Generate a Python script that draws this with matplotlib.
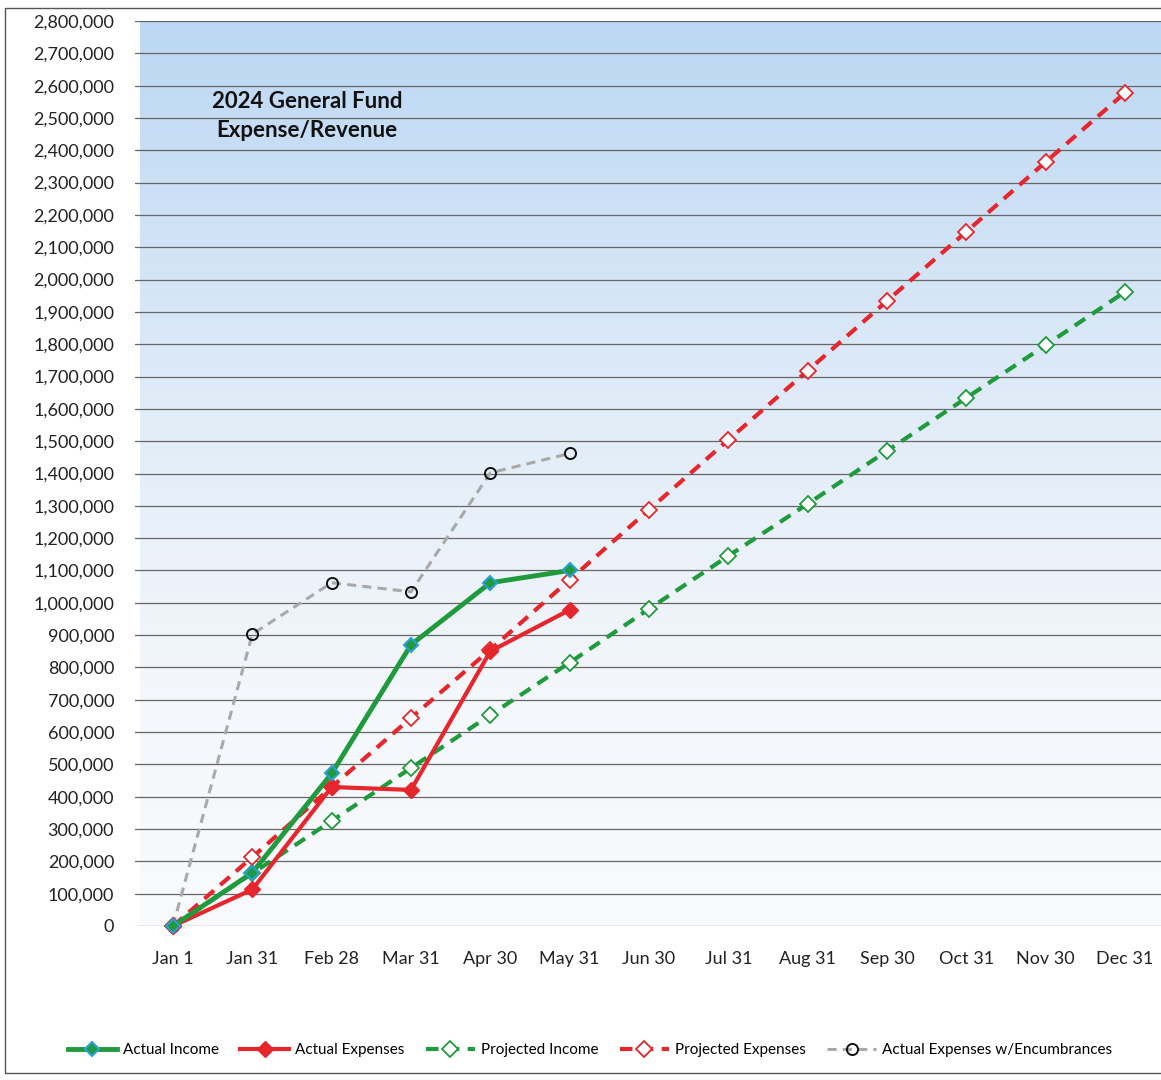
import numpy as np
import matplotlib
matplotlib.use("Agg")
import matplotlib.pyplot as plt
from matplotlib.colors import LinearSegmentedColormap
from matplotlib.patches import Rectangle
from matplotlib.ticker import FuncFormatter, MultipleLocator

plt.rcParams['font.family'] = ['Lato', 'DejaVu Sans']

# month-end labels
months = ["Jan 1", "Jan 31", "Feb 28", "Mar 31", "Apr 30", "May 31", "Jun 30",
          "Jul 31", "Aug 31", "Sep 30", "Oct 31", "Nov 30", "Dec 31"]

nan = np.nan
actual_income = [0, 165000, 472000, 870000, 1062000, 1100000,
                 nan, nan, nan, nan, nan, nan, nan]
actual_expenses = [0, 113000, 430000, 421000, 850000, 978000,
                   nan, nan, nan, nan, nan, nan, nan]
projected_income = [0, 163000, 325000, 489000, 653000, 815000, 981000,
                    1145000, 1306000, 1470000, 1634000, 1797000, 1962000]
projected_expenses = [0, 213000, 430000, 644000, 855000, 1071000, 1288000,
                      1504000, 1718000, 1934000, 2148000, 2364000, 2578000]
actual_w_encumbrances = [0, 903000, 1062000, 1034000, 1402000, 1462000,
                         nan, nan, nan, nan, nan, nan, nan]

W, H = 1161, 1080
fig = plt.figure(figsize=(W / 100, H / 100), dpi=100)
fig.patch.set_facecolor("white")

# outer frame of the pasted chart
fig.patches.append(Rectangle((5 / W, 1 - 1073 / H), 1.2, (1073 - 8) / H,
                             transform=fig.transFigure, fill=False,
                             edgecolor="#555555", lw=1.0))

left, right = 135, 1161
top, bottom = 21, 926
ax = fig.add_axes([left / W, 1 - bottom / H, (right - left) / W, (bottom - top) / H])

x = np.arange(len(months))
step = (1125 - 173) / 12
x0 = -(173 - left) / step
x1 = 12 + (right - 1125) / step

# gradient background: light blue at top fading to white
grad_cmap = LinearSegmentedColormap.from_list(
    "bg", [(0, "#f8fafd"), (0.25, "#f4f7fb"), (0.55, "#e2edf8"), (1, "#bcd7f3")])
grad = np.linspace(0, 1, 256).reshape(-1, 1)
ax.imshow(grad, cmap=grad_cmap, aspect="auto", origin="lower",
          extent=[x0 + 5 / step, x1 + 0.5, 0, 2800000], zorder=0)
ax.set_xlim(x0, x1)
ax.set_ylim(0, 2800000)

ax.yaxis.set_major_locator(MultipleLocator(100000))
ax.yaxis.set_major_formatter(FuncFormatter(lambda v, p: f"{int(v):,}"))
ax.grid(axis="y", color="#666666", lw=0.9, zorder=1)
ax.set_axisbelow(True)
for s in ax.spines.values():
    s.set_visible(False)
ax.tick_params(axis="y", length=0, pad=15, labelsize=13, labelcolor="#222222")
ax.tick_params(axis="x", length=0, pad=18, labelsize=13, labelcolor="#222222")
ax.set_xticks(x)
ax.set_xticklabels(months)

green = "#1f9a3c"
red = "#e5262d"
gray = "#a9a9a9"

ax.plot(x, actual_w_encumbrances, color=gray, lw=2.2, ls=(0, (3, 2)),
        marker="o", ms=8, mfc="none", mec="#111111", mew=1.4,
        label="Actual Expenses w/Encumbrances", zorder=3, clip_on=False)
ax.plot(x, projected_income, color=green, lw=3, ls=(0, (3, 2)),
        marker="D", ms=8, mfc="white", mec=green, mew=1.3,
        label="Projected Income", zorder=4, clip_on=False)
ax.plot(x, projected_expenses, color=red, lw=3, ls=(0, (3, 2)),
        marker="D", ms=8, mfc="white", mec=red, mew=1.3,
        label="Projected Expenses", zorder=4, clip_on=False)
ax.plot(x, actual_expenses, color=red, lw=3, marker="D", ms=8,
        mfc=red, mec=red, label="Actual Expenses", zorder=5, clip_on=False)
ax.plot(x, actual_income, color=green, lw=3.5, marker="D", ms=7,
        mfc=green, mec="#2a9fd6", mew=1.5, label="Actual Income", zorder=6, clip_on=False)

# title inside the plot, placed in figure pixels
fig.text(307 / W, 1 - 116 / H, "2024 General Fund\nExpense/Revenue",
         fontsize=16, fontweight="bold", ha="center", va="center",
         color="#111111", linespacing=1.5)

handles, labels = ax.get_legend_handles_labels()
order = ["Actual Income", "Actual Expenses", "Projected Income",
         "Projected Expenses", "Actual Expenses w/Encumbrances"]
hmap = dict(zip(labels, handles))
fig.legend([hmap[k] for k in order], order, loc="center",
           bbox_to_anchor=(590 / W, 1 - 1050 / H), ncol=5, frameon=False,
           fontsize=11, handlelength=3.2, columnspacing=1.4, handletextpad=0.4)

fig.savefig("out.png", dpi=100)
